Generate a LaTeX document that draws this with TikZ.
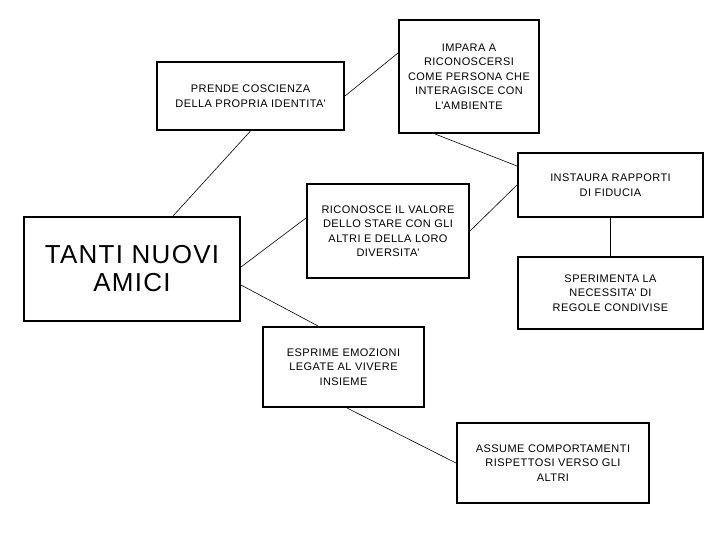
\documentclass[tikz,border=0pt]{standalone}
\usepackage{fontspec}
\setmainfont{Liberation Sans}
\newfontfamily\boxfont[LetterSpace=4]{Liberation Sans}
\newfontfamily\titlefont[LetterSpace=5]{Liberation Sans}
\newcommand{\ap}{\textquotesingle}
\begin{document}
\begin{tikzpicture}[x=1pt,y=-1pt,
  box/.style={draw,line width=2pt,rectangle,inner sep=0pt,align=center,
    font=\boxfont\fontsize{11}{14.5}\selectfont},
  link/.style={line width=0.6pt}]
\useasboundingbox (0,0) rectangle (720,540);
\node[box,minimum width=187pt,minimum height=68pt] (A) at (250.5,96) {PRENDE COSCIENZA\\DELLA PROPRIA IDENTITA\ap};
\node[box,minimum width=140pt,minimum height=113pt] (B) at (469,76.5) {IMPARA A\\RICONOSCERSI\\COME PERSONA CHE\\INTERAGISCE CON\\L\ap AMBIENTE};
\node[box,minimum width=216pt,minimum height=104pt,font=\titlefont\fontsize{26}{28}\selectfont] (T) at (132,269) {TANTI NUOVI\\AMICI};
\node[box,minimum width=162pt,minimum height=94pt] (R) at (388,231) {RICONOSCE IL VALORE\\DELLO STARE CON GLI\\ALTRI E DELLA LORO\\DIVERSITA\ap};
\node[box,minimum width=185pt,minimum height=64pt] (I) at (610.5,185) {INSTAURA RAPPORTI\\DI FIDUCIA};
\node[box,minimum width=185pt,minimum height=72pt] (S) at (610.5,293) {SPERIMENTA LA\\NECESSITA\ap{} DI\\REGOLE CONDIVISE};
\node[box,minimum width=161pt,minimum height=80pt] (E) at (343.5,367) {ESPRIME EMOZIONI\\LEGATE AL VIVERE\\INSIEME};
\node[box,minimum width=192pt,minimum height=80pt] (As) at (553,463) {ASSUME COMPORTAMENTI\\RISPETTOSI VERSO GLI\\ALTRI};
\draw[link] (A.east) -- ([yshift=23.5pt]B.west);
\draw[link] (A.south) -- ([xshift=41pt]T.north);
\draw[link] ([xshift=-34pt]B.south) -- ([yshift=19pt]I.west);
\draw[link] (R.east) -- (I.west);
\draw[link] ([yshift=2pt]T.east) -- ([yshift=13pt]R.west);
\draw[link] ([yshift=-16pt]T.east) -- ([xshift=-25.5pt]E.north);
\draw[link] (I.south) -- (S.north);
\draw[link] ([xshift=3.5pt]E.south) -- (As.west);
\end{tikzpicture}
\end{document}
